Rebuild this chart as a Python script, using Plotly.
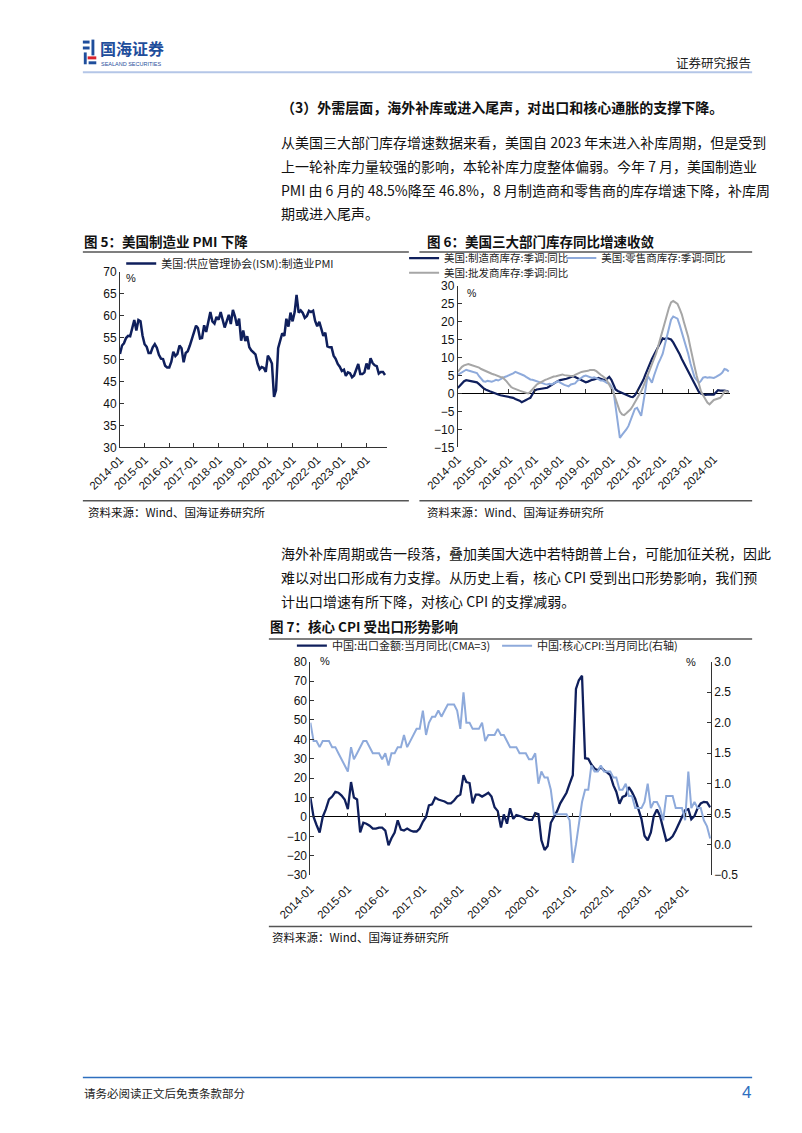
import plotly.graph_objects as go
import pandas as pd

W, H = 802, 1133
def px(x): return x / W
def py(y): return 1 - y / H

CJK = "Noto Sans CJK SC"
LAT = "Liberation Sans, Arial"
NAVY = "#0f1f5c"
LBLUE = "#8eaadb"
GRAY = "#a6a6a6"
AXC = "#333333"

# ---------------- data ----------------
# Fig 5: US ISM manufacturing PMI, monthly from 2014-01
pmi = [51.3, 53.2, 53.7, 54.9, 55.4, 55.3, 57.1, 59.0, 56.6, 59.0, 58.7, 55.5,
       53.5, 52.9, 51.5, 51.5, 52.8, 53.5, 52.7, 51.1, 50.2, 50.1, 48.6, 48.2,
       48.2, 49.5, 51.8, 50.8, 51.3, 53.2, 52.6, 49.4, 51.5, 51.9, 53.2, 54.7,
       56.0, 57.7, 57.2, 54.8, 54.9, 57.8, 56.3, 58.8, 60.8, 58.7, 58.2, 59.7,
       59.1, 60.8, 59.3, 57.3, 58.7, 60.2, 58.1, 61.3, 59.8, 57.7, 59.3, 54.3,
       56.6, 54.2, 55.3, 52.8, 52.1, 51.7, 51.2, 49.1, 47.8, 48.3, 48.1, 47.2,
       50.9, 50.1, 49.1, 41.5, 43.1, 52.6, 54.2, 56.0, 55.4, 59.3, 57.5, 60.7,
       58.7, 60.8, 64.7, 60.7, 61.2, 60.6, 59.5, 59.9, 61.1, 60.8, 61.1, 58.8,
       57.6, 58.6, 57.1, 55.4, 56.1, 53.0, 52.8, 52.8, 50.9, 50.2, 49.0, 48.4,
       47.4, 47.7, 46.3, 47.1, 46.9, 46.0, 46.4, 47.6, 49.0, 46.7, 46.7, 47.1,
       49.1, 47.8, 50.3, 49.2, 48.7, 48.5, 46.8, 47.2, 47.2, 46.5]

# Fig 6: US inventories YoY (%), monthly from 2014-01
manu = [1.5, 2.2, 2.9, 3.4, 3.7, 3.6, 3.4, 3.3, 3.2, 3.1, 2.6, 2.0,
        1.5, 1.1, 0.8, 0.6, 0.4, 0.1, -0.1, -0.3, -0.5, -0.6, -0.7, -0.8,
        -0.9, -1.0, -1.2, -1.5, -1.7, -2.0, -2.4, -2.2, -1.8, -1.5, -1.2, -0.2,
        0.8, 1.1, 1.2, 1.3, 1.4, 1.5, 1.6, 2.0, 2.4, 2.9, 3.2, 3.5,
        3.7, 3.8, 3.9, 4.1, 4.3, 4.5, 4.8, 4.6, 4.3, 4.0, 3.6, 3.3,
        3.1, 3.3, 3.6, 3.8, 3.9, 4.1, 4.3, 4.1, 3.9, 3.7, 4.1, 4.6,
        3.8, 2.2, 1.1, 0.7, 0.4, 0.1, 0.0, -0.4, -0.7, -0.9, -1.0, -0.5,
        0.5, 1.6, 2.7, 3.8, 5.3, 6.9, 8.4, 9.6, 10.8, 12.0, 13.2, 14.3,
        15.3, 15.1, 15.4, 15.2, 15.0, 14.2, 13.2, 12.1, 10.9, 9.6, 8.4, 7.2,
        6.0, 5.0, 3.8, 2.6, 1.4, 0.5, 0.0, -0.3, -0.4, -0.3, -0.4, -0.3,
        -0.3, 0.3, 0.9, 0.8, 0.9, 0.8, 0.7, 0.4]
retail = [5.2, 5.6, 6.0, 6.3, 6.6, 6.4, 6.2, 6.0, 5.9, 5.7, 4.8, 4.0,
          3.4, 3.3, 3.5, 3.4, 3.3, 3.5, 3.8, 3.6, 4.0, 4.3, 4.6, 4.8,
          5.0, 5.3, 5.6, 6.0, 5.8, 5.6, 5.2, 5.0, 4.6, 4.2, 3.9, 3.8,
          3.6, 3.3, 3.0, 2.8, 2.7, 2.6, 2.5, 2.7, 2.5, 2.8, 3.2, 3.4,
          3.0, 2.6, 2.4, 2.2, 2.0, 2.5, 2.6, 2.8, 3.5, 4.0, 4.4, 4.8,
          5.0, 4.8, 4.6, 4.3, 4.5, 4.3, 4.0, 3.6, 3.6, 3.3, 2.9, 2.8,
          2.0, 0.5, -3.5, -8.0, -12.3, -11.5, -10.8, -10.0, -9.0, -7.5, -5.5, -4.3,
          -4.0, -5.0, -6.2, -2.5, 1.5, 4.9, 4.0, 3.0, 5.0, 7.0, 8.4, 9.6,
          11.0, 13.5, 16.0, 18.5, 20.5, 21.4, 21.2, 20.8, 19.0, 17.0, 15.5, 13.5,
          11.0, 8.4, 6.2, 4.5, 3.8, 2.9, 3.5, 4.4, 4.6, 4.4, 4.5, 4.3,
          4.3, 4.6, 4.9, 5.3, 5.8, 6.8, 6.6, 6.1]
wholesale = [6.0, 6.8, 7.4, 7.8, 8.0, 8.2, 8.0, 7.8, 7.6, 7.5, 7.2, 6.8,
             6.5, 6.2, 6.0, 5.7, 5.5, 5.3, 5.0, 4.8, 4.6, 4.5, 4.0, 3.3,
             2.5, 1.8, 1.5, 1.2, 1.0, 0.8, 0.6, 0.4, 0.2, 0.0, 0.5, 1.2,
             1.8, 2.5, 2.8, 3.2, 3.5, 3.8, 4.0, 4.3, 4.5, 4.7, 4.8, 5.0,
             5.2, 5.3, 5.1, 5.0, 4.8, 4.9, 4.8, 5.2, 5.5, 5.8, 6.0, 6.1,
             6.1, 6.3, 6.5, 6.6, 6.5, 6.2, 5.6, 5.2, 4.8, 4.3, 3.5, 2.4,
             1.2, 0.2, -1.5, -3.5, -5.0, -5.8, -6.0, -5.5, -5.0, -4.4, -3.5, -2.5,
             -1.6, -0.5, 0.6, 2.0, 3.5, 5.0, 6.6, 8.2, 9.7, 11.2, 13.3, 15.5,
             17.6, 19.8, 22.0, 23.8, 25.3, 25.7, 25.3, 24.9, 23.5, 22.0, 19.8, 17.8,
             15.7, 12.8, 10.0, 7.5, 5.0, 2.6, 0.6, -0.5, -1.6, -2.5, -3.0, -2.3,
             -1.8, -1.6, -1.4, -1.2, -0.5, 0.6, 0.6, 0.2]

# Fig 7: China exports YoY (CMA=3, %) and core CPI YoY (%, right axis), monthly from 2014-01
export_cma3 = [10, 0, -4, -8, 0, 4, 9, 10.5, 13, 12.5, 11, 9,
               4, 18, 10, 9, -8, -3, -3.5, -4.5, -6, -6, -5.5, -5.5,
               -7, -14.6, -11, -8, -1.7, -6.5, -7, -6, -7, -7.5, -7.5, -6,
               -2.5, 0, 6, 6.5, 10, 9, 8.5, 8, 7, 7, 8.5, 10.5,
               11.5, 21.5, 18, 17.5, 7, 11.5, 11.5, 10.5, 11.5, 12.5, 10.5, 5,
               3, -5.5, 1.3, -3.5, 4.5, -1, 1, 0.5, 0, -1, -1.5, -1.5,
               2, 1.5, -12, -17, -15, -3, 0, 3, 7, 9.5, 12.5, 17,
               21.5, 66, 70.5, 72.8, 30.3, 30, 27, 25, 24, 25.7, 24, 23,
               21.5, 16.3, 13, 6.8, 10.3, 11, 15.4, 12.8, 9.4, 4.3, -1, -9.7,
               -12, -8, 0.5, 3.9, 0.5, -6, -12.2, -11.5, -10, -7, -3.5, 0.5,
               3.5, 4.0, -1.2, 0.5, 4.5, 7.0, 7.8, 7.5, 5.0]
core_cpi = [2.0, 1.7, 1.7, 1.6, 1.7, 1.7, 1.7, 1.6, 1.6, 1.5, 1.4, 1.3,
            1.2, 1.6, 1.4, 1.5, 1.6, 1.7, 1.7, 1.6, 1.5, 1.5, 1.5, 1.4,
            1.5, 1.3, 1.5, 1.5, 1.6, 1.6, 1.8, 1.6, 1.7, 1.8, 1.9, 1.9,
            2.2, 1.8, 2.0, 2.1, 2.1, 2.2, 2.1, 2.2, 2.3, 2.3, 2.3, 2.2,
            1.9, 2.5, 2.0, 2.0, 1.9, 1.9, 1.9, 2.0, 1.7, 1.8, 1.8, 1.8,
            1.9, 1.8, 1.8, 1.7, 1.6, 1.6, 1.6, 1.5, 1.5, 1.5, 1.4, 1.4,
            1.5, 1.0, 1.2, 1.1, 1.1, 0.9, 0.5, 0.5, 0.5, 0.5, 0.5, 0.4,
            -0.3, 0.0, 0.3, 0.7, 0.9, 0.9, 1.3, 1.2, 1.2, 1.3, 1.2, 1.2,
            1.2, 1.1, 1.1, 0.9, 0.9, 1.0, 0.8, 0.8, 0.6, 0.6, 0.6, 0.7,
            1.0, 0.6, 0.7, 0.7, 0.6, 0.4, 0.8, 0.8, 0.8, 0.6, 0.6, 0.6,
            0.4, 1.2, 0.6, 0.7, 0.6, 0.6, 0.4, 0.3, 0.1]

START = "2014-01-01"
pmi_dates = pd.date_range(START, periods=len(pmi), freq="MS")
inv_dates = pd.date_range(START, periods=len(manu), freq="MS")
cn_dates = pd.date_range(START, periods=len(export_cma3), freq="MS")

names5 = ["美国:供应管理协会(ISM):制造业PMI"]
names6 = ["美国:制造商库存:季调:同比", "美国:零售商库存:季调:同比", "美国:批发商库存:季调:同比"]
names7 = ["中国:出口金额:当月同比(CMA=3)", "中国:核心CPI:当月同比(右轴)"]

# ---------------- figure ----------------
fig = go.Figure()
fig.add_trace(go.Scatter(x=pmi_dates, y=pmi, mode="lines", name=names5[0],
                         line=dict(color=NAVY, width=2.5), xaxis="x", yaxis="y", legend="legend"))
fig.add_trace(go.Scatter(x=inv_dates, y=manu, mode="lines", name=names6[0],
                         line=dict(color=NAVY, width=2.2), xaxis="x2", yaxis="y2", legend="legend2"))
fig.add_trace(go.Scatter(x=inv_dates, y=retail, mode="lines", name=names6[1],
                         line=dict(color=LBLUE, width=2), xaxis="x2", yaxis="y2", legend="legend3"))
fig.add_trace(go.Scatter(x=inv_dates, y=wholesale, mode="lines", name=names6[2],
                         line=dict(color=GRAY, width=2), xaxis="x2", yaxis="y2", legend="legend4"))
fig.add_trace(go.Scatter(x=cn_dates, y=core_cpi, mode="lines", name=names7[1],
                         line=dict(color=LBLUE, width=2), xaxis="x3", yaxis="y4", legend="legend6"))
fig.add_trace(go.Scatter(x=cn_dates, y=export_cma3, mode="lines", name=names7[0],
                         line=dict(color=NAVY, width=2.3), xaxis="x3", yaxis="y3", legend="legend5"))

tickfont = dict(family=LAT, size=12, color="#111")
xlabfont = dict(family=LAT, size=11.5, color="#111")

def xdate(domain, rng, **kw):
    d = dict(domain=domain, range=rng, type="date", tickformat="%Y-%m", dtick="M12",
             tick0=START, tickangle=-45, tickfont=xlabfont, showgrid=False, zeroline=False,
             ticks="inside", ticklen=4, tickcolor=AXC, fixedrange=True)
    d.update(kw)
    return d

def yax(domain, rng, dtick, **kw):
    d = dict(domain=domain, range=rng, dtick=dtick, tick0=0, showgrid=False, showline=True,
             linecolor=AXC, linewidth=1, ticks="inside", ticklen=4, tickcolor=AXC,
             tickfont=tickfont, fixedrange=True)
    d.update(kw)
    return d

# Fig 5 geometry
x5 = [px(90.7), px(369)]
y5 = [py(446), py(268)]
# Fig 6 geometry
x6 = [px(443), px(727)]
y6 = [py(446), py(282)]
# Fig 7 geometry
x7 = [px(289.3), px(707)]
y7 = [py(879), py(663)]

def zero_pos(ydom, rng):
    return ydom[0] + (0 - rng[0]) / (rng[1] - rng[0]) * (ydom[1] - ydom[0])

r6 = [-15, 30]
r7 = [-30, 80]

fig.update_layout(
    width=W, height=H, margin=dict(l=0, r=0, t=0, b=0),
    paper_bgcolor="white", plot_bgcolor="rgba(0,0,0,0)",
    xaxis=xdate(x5, ["2014-01-01", "2024-10-28"], anchor="y", showline=True, linecolor=AXC, linewidth=1),
    yaxis=yax(y5, [30, 70], 5, anchor="x"),
    xaxis2=xdate(x6, ["2014-01-01", "2024-08-20"], anchor="free", position=zero_pos(y6, r6),
                 showline=False, ticklabelstandoff=56),
    yaxis2=yax(y6, r6, 5, anchor="x2", zeroline=True, zerolinecolor="#000", zerolinewidth=1),
    xaxis3=xdate(x7, ["2014-01-01", "2024-09-08"], anchor="free", position=zero_pos(y7, r7),
                 showline=False, ticklabelstandoff=62),
    yaxis3=yax(y7, r7, 10, anchor="x3", zeroline=True, zerolinecolor="#000", zerolinewidth=1),
    yaxis4=yax(y7, [-0.5, 3.0], 0.5, anchor="x3", overlaying="y3", side="right",
               tickformat=".1f", tick0=-0.5),
    showlegend=True,
)

LEG_DX = 29   # offset from legend origin to start of the line sample
LEG_DY = 15   # offset from legend top to the line sample
def leg(line_x, line_y, size=11):
    return dict(x=px(line_x - LEG_DX), y=py(line_y - LEG_DY), xanchor="left", yanchor="top",
                orientation="v", bgcolor="rgba(0,0,0,0)", borderwidth=0, itemwidth=30,
                font=dict(family=CJK, size=size, color="#222"))

fig.update_layout(
    legend=leg(121, 260),
    legend2=leg(416, 254.5, 10.5),
    legend3=leg(580, 254.5, 10.5),
    legend4=leg(416, 269.5, 10.5),
    legend5=leg(299, 647),
    legend6=leg(513, 647),
)

ann = []
def txt(x, y, s, size=14, color="#111", bold=False, xanchor="left", family=CJK):
    ann.append(dict(x=px(x), y=py(y), xref="paper", yref="paper", text=("<b>%s</b>" % s) if bold else s,
                    showarrow=False, xanchor=xanchor, yanchor="middle", borderpad=0,
                    font=dict(family=family, size=size, color=color)))

# header
txt(69, 42, "国海证券", size=16, color="#1f4e9c", bold=True)
txt(70, 57.5, "SEALAND SECURITIES", size=5.5, color="#1f4e9c", family=LAT)
txt(750, 56, "证券研究报告", size=12.5, color="#222", xanchor="right")

# text block 1
txt(258, 101, "（3）外需层面，海外补库或进入尾声，对出口和核心通胀的支撑下降。", size=14, bold=True)
para1 = ["从美国三大部门库存增速数据来看，美国自 2023 年末进入补库周期，但是受到",
         "上一轮补库力量较强的影响，本轮补库力度整体偏弱。今年 7 月，美国制造业",
         "PMI 由 6 月的 48.5%降至 46.8%，8 月制造商和零售商的库存增速下降，补库周",
         "期或进入尾声。"]
for i, s in enumerate(para1):
    txt(258, 137 + 24 * i, s, size=14)

# figure titles and sources
txt(52, 237, "图 5：美国制造业 PMI 下降", size=13.5, bold=True)
txt(410, 237, "图 6：美国三大部门库存同比增速收敛", size=13.5, bold=True)
txt(56, 511, "资料来源：Wind、国海证券研究所", size=11.5)
txt(410, 511, "资料来源：Wind、国海证券研究所", size=11.5)

para2 = ["海外补库周期或告一段落，叠加美国大选中若特朗普上台，可能加征关税，因此",
         "难以对出口形成有力支撑。从历史上看，核心 CPI 受到出口形势影响，我们预",
         "计出口增速有所下降，对核心 CPI 的支撑减弱。"]
for i, s in enumerate(para2):
    txt(258, 553 + 24 * i, s, size=14)

txt(246, 627, "图 7：核心 CPI 受出口形势影响", size=13.5, bold=True)
txt(248, 942, "资料来源：Wind、国海证券研究所", size=11.5)

# % unit labels
txt(96, 274, "%", size=11, family=LAT)
txt(452, 290, "%", size=10.5, family=LAT)
txt(298, 662, "%", size=11, family=LAT)
txt(680, 663, "%", size=11, family=LAT)

# footer
txt(52, 1100, "请务必阅读正文后免责条款部分", size=11.5, color="#222")
txt(750, 1099, "4", size=17, color="#2e6fbf", xanchor="right", family=LAT)

shapes = []
def hline(x0, x1, y, color, width):
    shapes.append(dict(type="line", xref="paper", yref="paper", x0=px(x0), x1=px(x1),
                       y0=py(y), y1=py(y), line=dict(color=color, width=width)))
def rect(x0, y0, x1, y1, color):
    shapes.append(dict(type="rect", xref="paper", yref="paper", x0=px(x0), x1=px(x1),
                       y0=py(y1), y1=py(y0), fillcolor=color, line=dict(width=0)))

hline(52, 750, 66, "#b4c6e7", 2)
hline(52, 750, 1084, "#2e6fbf", 1.5)
hline(52, 392, 248, "#555", 1.5)
hline(403, 750, 248, "#555", 1.5)
hline(52, 392, 500, "#555", 1.5)
hline(403, 750, 500, "#555", 1.5)
hline(246, 750, 640, "#555", 1.5)
hline(246, 750, 931, "#555", 1.5)

# logo mark
rect(52, 34, 59, 37, "#1f4e9c")
rect(52, 40, 59, 43, "#1f4e9c")
rect(53, 46, 56, 58, "#1f4e9c")
rect(61, 33, 64, 49, "#1f4e9c")
rect(57, 50, 66, 53, "#d9232d")
rect(58, 55, 66, 58, "#1f4e9c")

fig.update_layout(annotations=ann, shapes=shapes)

fig.write_html("out.html", include_plotlyjs=True, full_html=True, config={"displayModeBar": False})
